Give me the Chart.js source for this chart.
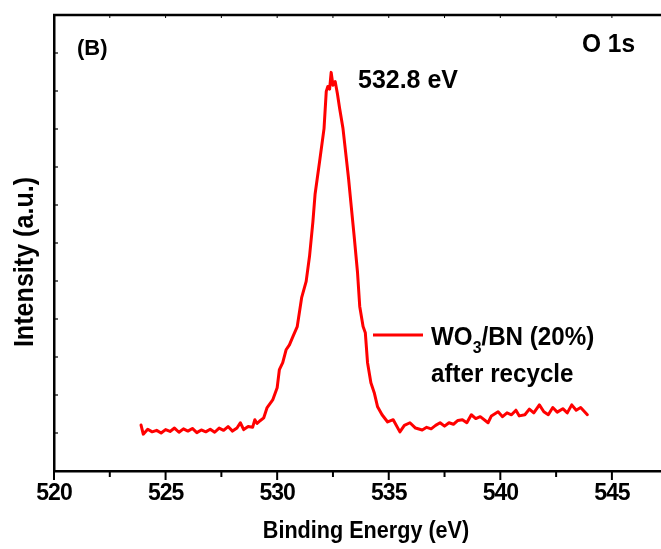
<!DOCTYPE html>
<html>
<head>
<meta charset="utf-8">
<title>O 1s XPS spectrum</title>
<script src="https://cdn.jsdelivr.net/npm/chart.js@4.4.0/dist/chart.umd.min.js"></script>
<style>
  html, body { margin: 0; padding: 0; background: #fff; }
  #wrap { width: 661px; height: 549px; position: relative; }
</style>
</head>
<body>
<div id="wrap"><canvas id="xpsChart"></canvas></div>
<script>
// O 1s region, WO3/BN (20%) sample after recycling

const bindingEnergy = [
    523.9, 524.0, 524.2, 524.4, 524.6, 524.8, 525.0, 525.2, 525.4, 525.6,
    525.8, 526.0, 526.2, 526.4, 526.6, 526.8, 527.0, 527.2, 527.4, 527.6,
    527.8, 528.0, 528.2, 528.35, 528.5, 528.7, 528.9, 529.0, 529.1, 529.25,
    529.4, 529.55, 529.8, 530.0, 530.1, 530.25, 530.4, 530.55, 530.7, 530.9,
    531.1, 531.3, 531.45, 531.6, 531.7, 531.9, 532.1, 532.2, 532.27, 532.35,
    532.42, 532.5, 532.6, 532.7, 532.8, 532.95, 533.1, 533.2, 533.3, 533.45,
    533.6, 533.7, 533.85, 533.95, 534.05, 534.2, 534.35, 534.5, 534.7, 534.95,
    535.2, 535.5, 535.7, 535.95, 536.2, 536.5, 536.7, 536.9, 537.1, 537.3,
    537.5, 537.7, 537.9, 538.1, 538.3, 538.5, 538.7, 538.9, 539.1, 539.45,
    539.6, 539.9, 540.1, 540.3, 540.5, 540.7, 540.85, 541.1, 541.3, 541.5,
    541.75, 541.95, 542.15, 542.35, 542.55, 542.8, 543.0, 543.2, 543.4, 543.6,
    543.9
];

const intensity = [
    1.21, 0.97, 1.10, 1.03, 1.07, 1.00, 1.09, 1.04, 1.13, 1.02,
    1.11, 1.05, 1.12, 1.01, 1.08, 1.03, 1.10, 1.02, 1.13, 1.07,
    1.17, 1.05, 1.13, 1.27, 1.09, 1.17, 1.15, 1.35, 1.25, 1.33,
    1.40, 1.67, 1.87, 2.19, 2.67, 2.85, 3.19, 3.32, 3.53, 3.80,
    4.57, 4.99, 5.65, 6.55, 7.29, 8.14, 9.01, 9.99, 10.12, 10.05,
    10.49, 10.15, 10.25, 9.93, 9.54, 9.01, 8.22, 7.69, 7.08, 6.18,
    5.23, 4.33, 3.80, 3.64, 2.85, 2.32, 2.06, 1.69, 1.48, 1.29,
    1.35, 1.03, 1.20, 1.27, 1.13, 1.08, 1.15, 1.11, 1.20, 1.27,
    1.18, 1.27, 1.23, 1.33, 1.35, 1.27, 1.48, 1.38, 1.43, 1.27,
    1.45, 1.56, 1.43, 1.53, 1.48, 1.60, 1.45, 1.48, 1.63, 1.53,
    1.74, 1.56, 1.48, 1.67, 1.55, 1.64, 1.53, 1.74, 1.60, 1.67,
    1.48
];

const xAxisTitle = 'Binding Energy (eV)';
const yAxisTitle = 'Intensity (a.u.)';
const panelLabel = '(B)';
const regionLabel = 'O 1s';
const peakLabel = '532.8 eV';
const seriesName = ['WO', '3', '/BN (20%)'];
const seriesNote = 'after recycle';

const FONT = "'Liberation Sans', Arial, Helvetica, sans-serif";

function boldFont(size) {
    return 'bold ' + size + 'px ' + FONT;
}

// draw text squeezed horizontally, left aligned at (x, y) baseline
function squeezedText(ctx, text, x, y, size, squeeze) {
    ctx.save();
    ctx.font = boldFont(size);
    ctx.translate(x, y);
    ctx.scale(squeeze, 1);
    ctx.textAlign = 'left';
    ctx.textBaseline = 'alphabetic';
    ctx.fillText(text, 0, 0);
    const w = ctx.measureText(text).width * squeeze;
    ctx.restore();
    return w;
}

/* frame, tick marks and annotations */
const framePlugin = {
    id: 'framePlugin',
    beforeDraw(chart) {
        // tick labels are a bit tight in the original figure
        chart.ctx.letterSpacing = '-1px';
    },
    afterDraw(chart) {
        const { ctx, chartArea: a, scales: { x, y } } = chart;
        ctx.save();
        ctx.letterSpacing = '0px';
        ctx.strokeStyle = '#000';
        ctx.fillStyle = '#000';

        const seg = (x1, y1, x2, y2) => {
            ctx.beginPath();
            ctx.moveTo(x1, y1);
            ctx.lineTo(x2, y2);
            ctx.stroke();
        };

        // top spine
        ctx.lineWidth = 2.5;
        seg(a.left - 1, a.top, a.right, a.top);

        // x ticks: outward on the bottom, small inward ones on top
        x.ticks.forEach(t => {
            const px = x.getPixelForValue(t.value);
            const major = Math.abs(t.value % 5) < 1e-6;
            ctx.lineWidth = 2;
            seg(px, a.bottom, px, a.bottom + (major ? 9 : 6));
            ctx.lineWidth = 1;
            seg(px, a.top, px, a.top + 3);
        });

        // y ticks: inward on the left spine
        ctx.lineWidth = 1.2;
        y.ticks.forEach(t => {
            const py = y.getPixelForValue(t.value);
            seg(a.left, py, a.left + 4, py);
        });

        // axis titles
        ctx.font = boldFont(24);
        ctx.save();
        ctx.translate(366, 538);
        ctx.scale(0.9, 1);
        ctx.textAlign = 'center';
        ctx.textBaseline = 'alphabetic';
        ctx.fillText(xAxisTitle, 0, 0);
        ctx.restore();

        ctx.save();
        ctx.font = boldFont(27);
        ctx.translate(26, 262);
        ctx.rotate(-Math.PI / 2);
        ctx.scale(0.93, 1);
        ctx.textAlign = 'center';
        ctx.textBaseline = 'middle';
        ctx.fillText(yAxisTitle, 0, 0);
        ctx.restore();

        // corner labels
        squeezedText(ctx, panelLabel, 77, 55, 22, 1);
        squeezedText(ctx, regionLabel, 582, 52, 25, 0.98);
        squeezedText(ctx, peakLabel, 358, 88, 26, 0.96);

        // legend entry
        ctx.strokeStyle = '#ff0000';
        ctx.lineWidth = 3;
        seg(373, 335, 423, 335);
        let cx = 431;
        cx += squeezedText(ctx, seriesName[0], cx, 345, 26, 0.93);
        cx += squeezedText(ctx, seriesName[1], cx, 353, 17, 0.93);
        squeezedText(ctx, seriesName[2], cx, 345, 26, 0.93);
        squeezedText(ctx, seriesNote, 431, 382, 26, 0.93);

        ctx.restore();
    }
};

const ctx = document.getElementById('xpsChart');

new Chart(ctx, {
    type: 'line',
    data: {
        datasets: [{
            label: seriesName.join('') + ' ' + seriesNote,
            data: bindingEnergy.map((e, i) => ({ x: e, y: intensity[i] })),
            borderColor: '#ff0000',
            borderWidth: 3,
            borderJoinStyle: 'round',
            borderCapStyle: 'round',
            pointRadius: 0,
            tension: 0,
            fill: false
        }]
    },
    options: {
        responsive: true,
        maintainAspectRatio: false,
        animation: false,
        layout: {
            padding: { top: 15, left: 0, right: 0, bottom: 0 }
        },
        plugins: {
            legend: { display: false },
            tooltip: { enabled: false }
        },
        scales: {
            x: {
                type: 'linear',
                min: 520,
                max: 547.2,
                afterFit(scale) { scale.height = 78; },
                border: { display: true, color: '#000', width: 2.5 },
                grid: { display: true, drawOnChartArea: false, drawTicks: false, tickLength: 0 },
                ticks: {
                    stepSize: 2.5,
                    includeBounds: false,
                    autoSkip: false,
                    maxRotation: 0,
                    padding: 9,
                    color: '#000',
                    font: { family: FONT, size: 23, weight: 'bold' },
                    callback: v => (v % 5 === 0 ? String(v) : '')
                }
            },
            y: {
                type: 'linear',
                min: 0,
                max: 12,
                afterFit(scale) { scale.width = 54; },
                border: { display: true, color: '#000', width: 2.5 },
                grid: { display: true, drawOnChartArea: false, drawTicks: false, tickLength: 0 },
                ticks: { display: false, stepSize: 1 }
            }
        }
    },
    plugins: [framePlugin]
});
</script>
</body>
</html>
